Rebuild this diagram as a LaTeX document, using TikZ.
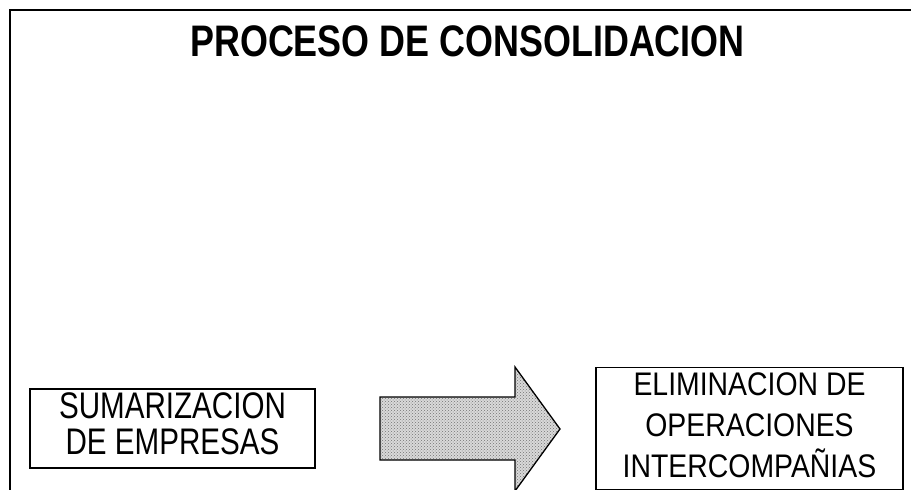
\documentclass[tikz,border=0pt]{standalone}
\usepackage{fontspec}
\setmainfont{Liberation Sans}
\usetikzlibrary{patterns}
\tikzset{
  frame/.style={line width=2.6pt},
  procbox/.style={draw, line width=1.3pt, rectangle, inner sep=0pt, align=center},
  bigarrow/.style={draw, line width=1.3pt, pattern=crosshatch dots, pattern color=gray!90!black}
}
\begin{document}
\begin{tikzpicture}[x=1pt,y=-1pt]
\useasboundingbox (0,0) rectangle (911,490);
% outer frame (open at right and bottom)
\draw[frame] (10,490) -- (10,10) -- (911,10);
% title
\node[font=\fontsize{35.9}{40}\selectfont\bfseries] (title) at (467.5,41)
  {\scalebox{1}[1.23]{PROCESO DE CONSOLIDACION}};
% left box
\node[procbox, minimum width=285pt, minimum height=79pt,
      font=\fontsize{29.6}{26.4}\selectfont] (suma) at (172.5,428.5)
  {\scalebox{1}[1.25]{\begin{tabular}{@{}c@{}}SUMARIZACION\\DE EMPRESAS\end{tabular}}};
% right box
\node[procbox, minimum width=307pt, minimum height=114pt,
      font=\fontsize{28.4}{35.4}\selectfont] (elim) at (749.5,428.5)
  {\scalebox{1}[1.15]{\begin{tabular}{@{}c@{}}ELIMINACION DE\\OPERACIONES\\INTERCOMPAÑIAS\end{tabular}}};
% block arrow
\fill[gray!30] (380,397) -- (515,397) -- (515,367) -- (560,429) -- (515,491) -- (515,460) -- (380,460) -- cycle;
\draw[bigarrow] (380,397) -- (515,397) -- (515,367) -- (560,429) -- (515,491) -- (515,460) -- (380,460) -- cycle;
\end{tikzpicture}
\end{document}
